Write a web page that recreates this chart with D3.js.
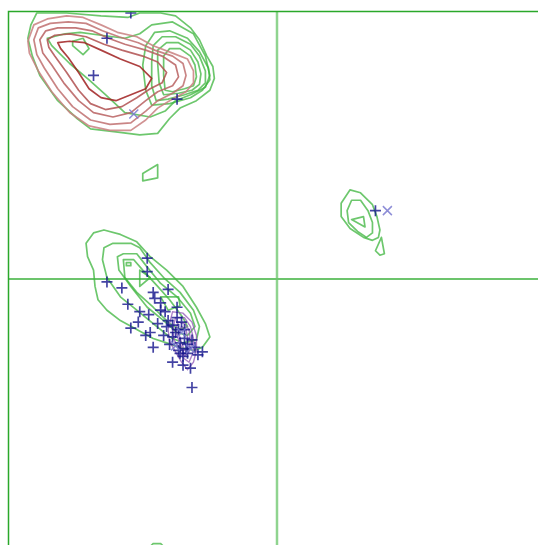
<!DOCTYPE html>
<html>
<head>
<meta charset="utf-8">
<script src="https://cdn.jsdelivr.net/npm/d3@7"></script>
<style>
  body { margin: 0; background: #fff; }
  svg { display: block; }
</style>
</head>
<body>
<svg id="rama" width="538" height="545"></svg>
<script>
// phi / psi values in degrees

// beta region, green density levels
const betaGreen1 = [[-161,179],[-165,171],[-167,162],[-164,150],[-159,137],[-147,120],[-134,108],[-125,101],[-108,99],[-92,97],[-80,98],[-72,108],[-65,115],[-54,120],[-45,127],[-42,135],[-43,143],[-47,150],[-52,161],[-58,169],[-68,177],[-78,179],[-92,179],[-100,176],[-118,177],[-141,179]]
const betaGreen2 = [[-154,162],[-142,165],[-132,166],[-118,164],[-102,162],[-92,165],[-84,171],[-70,173],[-56,165],[-48,150],[-45,137],[-48,129],[-58,124],[-68,120],[-75,113],[-85,109],[-102,112],[-115,124],[-126,134],[-139,145],[-151,157]]
const betaGreen3 = [[-88,157],[-82,166],[-72,167],[-60,162],[-52,153],[-46,142],[-45,134],[-50,127],[-58,122],[-72,118],[-84,117],[-88,127],[-90,144]]
const betaGreen4 = [[-83,157],[-77,163],[-68,163],[-58,158],[-52,150],[-48,140],[-48,132],[-53,127],[-62,124],[-73,121],[-81,120],[-84,130],[-84,146]]
const betaGreen5 = [[-80,154],[-74,159],[-66,159],[-58,154],[-53,146],[-51,138],[-52,131],[-57,127],[-66,125],[-76,124],[-79,132],[-80,145]]
const betaGreen6 = [[-76,150],[-72,155],[-65,155],[-58,150],[-55,144],[-54,136],[-56,130],[-62,128],[-70,126],[-75,127],[-76,137]]
const betaGreen7 = [[-137,160],[-130,162],[-126,155],[-130,151],[-137,157]]
const bridgeGreen = [[-90,71],[-80,77],[-80,68],[-90,66]]

// beta region, red density levels (outer to inner)
const betaRed1 = [[-167,160],[-163,171],[-154,175],[-141,177],[-130,176],[-118,171],[-107,166],[-94,163],[-83,157],[-70,152],[-60,148],[-56,140],[-56,132],[-61,126],[-72,120],[-80,115],[-88,107],[-98,100],[-112,100],[-126,103],[-139,112],[-151,126],[-160,140],[-166,152]]
const betaRed2 = [[-163,161],[-160,169],[-152,172],[-140,173],[-128,172],[-117,167],[-106,163],[-93,159],[-82,154],[-70,150],[-63,145],[-61,137],[-63,130],[-70,125],[-80,120],[-88,113],[-98,105],[-112,104],[-125,107],[-137,116],[-147,128],[-156,142],[-161,151]]
const betaRed3 = [[-159,161],[-155,167],[-147,169],[-135,169],[-124,167],[-113,162],[-102,158],[-88,154],[-77,150],[-68,144],[-66,136],[-70,130],[-80,126],[-88,120],[-98,112],[-110,109],[-123,112],[-133,120],[-143,132],[-151,144],[-157,152]]
const betaRed4 = [[-154,161],[-149,164],[-139,165],[-128,163],[-116,158],[-104,154],[-90,150],[-80,146],[-74,139],[-77,132],[-85,128],[-94,122],[-104,116],[-115,114],[-125,118],[-133,127],[-141,139],[-149,150],[-153,156]]
const betaRed5 = [[-147,159],[-139,160],[-129,159],[-118,154],[-105,148],[-92,143],[-84,135],[-88,128],[-98,124],[-108,120],[-118,122],[-126,128],[-133,139],[-140,149],[-145,155]]

// right-handed helix region, green levels
const alphaGreen1 = [[-123,31],[-116,33],[-105,30],[-94,25],[-85,15],[-74,6],[-63,-5],[-54,-19],[-48,-30],[-45,-39],[-50,-46],[-56,-48],[-65,-46],[-74,-43],[-83,-40],[-94,-34],[-105,-28],[-114,-21],[-120,-14],[-122,-5],[-123,6],[-127,15],[-128,24]]
const alphaGreen2 = [[-116,21],[-110,24],[-98,24],[-92,21],[-85,11],[-76,1],[-65,-9],[-56,-21],[-52,-32],[-54,-41],[-63,-43],[-72,-39],[-83,-30],[-94,-21],[-105,-12],[-114,1],[-117,13]]
const alphaGreen3 = [[-107,15],[-103,17],[-94,17],[-87,8],[-78,-3],[-67,-12],[-58,-23],[-55,-32],[-60,-38],[-67,-36],[-76,-28],[-87,-19],[-98,-5],[-106,6]]
const alphaGreen4 = [[-103,13],[-96,13],[-90,6],[-80,-5],[-72,-14],[-63,-26],[-60,-32],[-65,-34],[-72,-30],[-83,-19],[-94,-9],[-102,1]]
const alphaGreen5 = [[-92,6],[-85,1],[-92,-5]]
const alphaGreen6 = [[-78,-12],[-66,-12],[-65,-18],[-73,-21]]
const alphaGreen7 = [[-101,11],[-98,11],[-98,9],[-101,9]]

// right-handed helix region, purple levels
const alphaPurple1 = [[-73,-34],[-70,-22],[-63,-23],[-57,-29],[-54,-38],[-54,-48],[-56,-56],[-60,-61],[-64,-56],[-68,-49],[-72,-42]]
const alphaPurple2 = [[-70,-34],[-68,-26],[-62,-26],[-58,-32],[-56,-40],[-56,-49],[-59,-56],[-63,-53],[-66,-46],[-69,-41]]
const alphaPurple3 = [[-68,-34],[-66,-29],[-62,-30],[-59,-34],[-58,-41],[-59,-49],[-62,-52],[-64,-46],[-66,-41]]
const alphaPurple4 = [[-66,-36],[-64,-32],[-61,-34],[-60,-39],[-60,-46],[-62,-48],[-64,-43]]

// left-handed helix region, green levels
const leftGreen1 = [[49,60],[56,58],[64,50],[67,42],[69,33],[68,28],[64,26],[58,28],[49,34],[43,42],[43,51]]
const leftGreen2 = [[50,53],[56,53],[61,46],[64,38],[64,31],[60,28],[54,32],[48,38],[47,46]]
const leftGreen3 = [[50,40],[58,42],[59,35]]
const leftGreen4 = [[70,28],[72,17],[69,16],[66,19]]

// piece of a level cut by the psi = -180 edge (open line)
const edgeGreen = [[-85,-180],[-83,-178],[-78,-178],[-76,-180]]

// residues
const plusPoints = [[-98,179],[-114,162],[-123,137],[-67,121],[66,46],
  [-87,14],[-87,5],[-114,-2],[-104,-6],[-83,-9],[-73,-7],[-100,-17],[-82,-13],[-78,-16],[-67,-19],
  [-92,-22],[-86,-24],[-93,-29],[-80,-30],[-73,-28],[-64,-29],[-98,-33],[-88,-38],[-83,-46],[-76,-38],
  [-70,-39],[-62,-40],[-66,-48],[-60,-50],[-50,-49],[-70,-56],[-58,-60],[-57,-73],[-74,-32],[-65,-43],
  [-60,-44],[-55,-46],[-63,-52],[-66,-34],[-70,-31],[-67,-26],[-85,-36],[-75,-22],[-62,-34],[-57,-41],
  [-72,-44],[-78,-21],[-53,-51],[-63,-58],[-68,-36],[-61,-47],[-65,-50]]
const crossPoints = [[-96,111],[74,46],[-64,-36],[-58,-47],[-68,-45]]

const greenLevels = [betaGreen1, betaGreen2, betaGreen3, betaGreen4, betaGreen5, betaGreen6, betaGreen7, bridgeGreen,
  alphaGreen1, alphaGreen2, alphaGreen3, alphaGreen4, alphaGreen5, alphaGreen6, alphaGreen7,
  leftGreen1, leftGreen2, leftGreen3, leftGreen4]
const redLevels = [betaRed1, betaRed2, betaRed3, betaRed4, betaRed5]
const purpleLevels = [alphaPurple1, alphaPurple2, alphaPurple3, alphaPurple4]

var svg = d3.select("#rama")

const x = d3.scaleLinear().domain([-180, 180]).range([8.5, 545.5])
const y = d3.scaleLinear().domain([180, -180]).range([11.5, 546.5])

const closed = d3.line().x(d => x(d[0])).y(d => y(d[1])).curve(d3.curveLinearClosed)
const open = d3.line().x(d => x(d[0])).y(d => y(d[1]))

svg.append("defs").append("clipPath").attr("id", "frame")
  .append("rect")
    .attr("x", x(-180)).attr("y", y(180))
    .attr("width", x(180) - x(-180)).attr("height", y(-180) - y(180))

const plot = svg.append("g").attr("clip-path", "url(#frame)")

// axis cross through 0,0
plot.append("line")
  .attr("x1", x(0)).attr("x2", x(0)).attr("y1", y(180)).attr("y2", y(-180))
  .attr("stroke", "#8fd48f").attr("stroke-width", 2.5)
plot.append("line")
  .attr("x1", x(-180)).attr("x2", x(180)).attr("y1", y(0)).attr("y2", y(0))
  .attr("stroke", "#6cc46c").attr("stroke-width", 2)

plot.append("g")
  .selectAll("path")
  .data(greenLevels)
  .join("path")
    .attr("d", closed)
    .attr("fill", "none")
    .attr("stroke", "#3cb43c")
    .attr("stroke-opacity", 0.75)
    .attr("stroke-width", 1.7)
    .attr("stroke-linejoin", "round")

plot.append("path")
  .attr("d", open(edgeGreen))
  .attr("fill", "none").attr("stroke", "#3cb43c").attr("stroke-opacity", 0.75).attr("stroke-width", 1.7)

const redShade = d3.scaleOrdinal(["#c98080", "#c07070", "#b86060", "#b05050", "#a02020"]).domain([0, 1, 2, 3, 4])

plot.append("g")
  .selectAll("path")
  .data(redLevels)
  .join("path")
    .attr("d", closed)
    .attr("fill", "none")
    .attr("stroke", (d, i) => redShade(i))
    .attr("stroke-opacity", 0.85)
    .attr("stroke-width", 1.7)
    .attr("stroke-linejoin", "round")

plot.append("g")
  .selectAll("path")
  .data(purpleLevels)
  .join("path")
    .attr("d", closed)
    .attr("fill", "none")
    .attr("stroke", "#9055b5")
    .attr("stroke-opacity", 0.75)
    .attr("stroke-width", 1.4)

// "+" residues
const s = 5.5
plot.append("g")
  .selectAll("path")
  .data(plusPoints)
  .join("path")
    .attr("d", d => `M${x(d[0]) - s},${y(d[1])}H${x(d[0]) + s}M${x(d[0])},${y(d[1]) - s}V${y(d[1]) + s}`)
    .attr("stroke", "#14148c")
    .attr("stroke-opacity", 0.8)
    .attr("stroke-width", 1.7)

// "x" residues
const c = 4.5
plot.append("g")
  .selectAll("path")
  .data(crossPoints)
  .join("path")
    .attr("d", d => `M${x(d[0]) - c},${y(d[1]) - c}L${x(d[0]) + c},${y(d[1]) + c}M${x(d[0]) - c},${y(d[1]) + c}L${x(d[0]) + c},${y(d[1]) - c}`)
    .attr("stroke", "#7a7ad0")
    .attr("stroke-opacity", 0.85)
    .attr("stroke-width", 1.5)

// frame
svg.append("rect")
  .attr("x", x(-180)).attr("y", y(180))
  .attr("width", x(180) - x(-180)).attr("height", y(-180) - y(180))
  .attr("fill", "none")
  .attr("stroke", "#2aa82a")
  .attr("stroke-width", 1.5)
</script>
</body>
</html>
